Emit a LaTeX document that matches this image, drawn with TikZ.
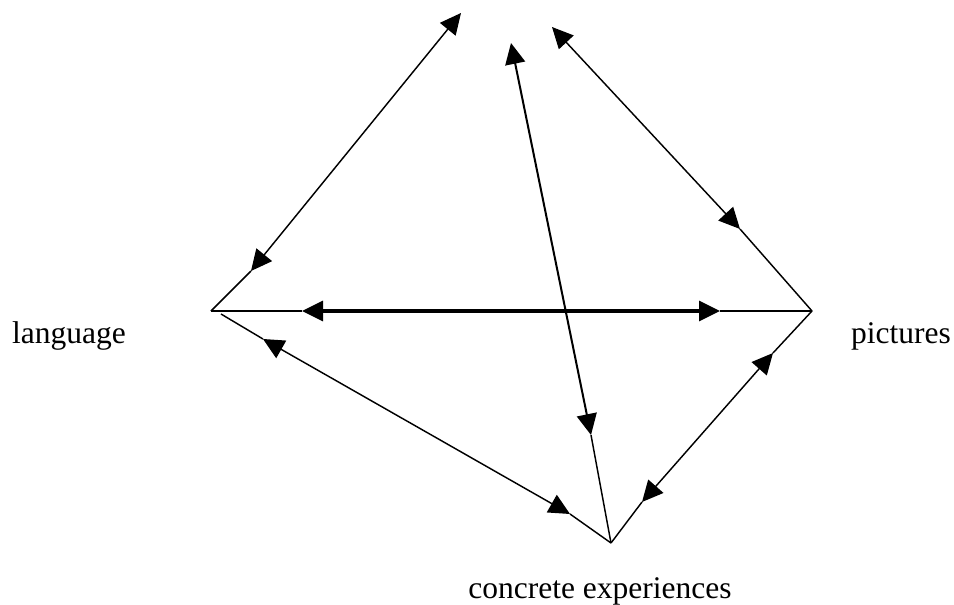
\documentclass[tikz,border=0pt]{standalone}
\usepackage{fontspec}
\setmainfont{Liberation Serif}
\usetikzlibrary{arrows.meta}
\begin{document}
\begin{tikzpicture}[x=1pt,y=-1pt,
  thinln/.style={line width=1.45pt},
  midln/.style={line width=2pt},
  boldln/.style={line width=3.3pt},
  dbl/.style={{Triangle[length=21pt,width=20pt]}-{Triangle[length=21pt,width=20pt]}},
  lbl/.style={font=\fontsize{31.5}{36}\selectfont, inner sep=0pt}]
\useasboundingbox (0,0) rectangle (954,605);
% vertices
\coordinate (L) at (211,311);
\coordinate (Lb) at (221,314);
\coordinate (R) at (812,311);
\coordinate (B) at (611,543);
% arrow end points
\coordinate (a1s) at (251,271); \coordinate (a1e) at (461,13);
\coordinate (a2s) at (302,311); \coordinate (a2e) at (720,311);
\coordinate (a3s) at (740,229); \coordinate (a3e) at (552,27);
\coordinate (a4s) at (591,435); \coordinate (a4e) at (511,43);
\coordinate (a5s) at (263,339); \coordinate (a5e) at (570,514);
\coordinate (a6s) at (773,353); \coordinate (a6e) at (642,502);
% plain connecting segments
\draw[thinln] (L) -- (a1s);
\draw[thinln] (L) -- (a2s);
\draw[thinln] (Lb) -- (a5s);
\draw[thinln] (R) -- (a2e);
\draw[thinln] (R) -- (a3s);
\draw[thinln] (R) -- (a6s);
\draw[thinln] (B) -- (a4s);
\draw[thinln] (B) -- (a5e);
\draw[thinln] (B) -- (a6e);
% double-headed arrows
\draw[thinln,dbl] (a1s) -- (a1e);
\draw[boldln,dbl] (a2s) -- (a2e);
\draw[thinln,dbl] (a3s) -- (a3e);
\draw[midln,dbl] (a4s) -- (a4e);
\draw[thinln,dbl] (a5s) -- (a5e);
\draw[thinln,dbl] (a6s) -- (a6e);
% labels
\node[lbl,anchor=base west] (lang) at (12,343) {language};
\node[lbl,anchor=base west] (pict) at (851,343) {pictures};
\node[lbl,anchor=base] (conc) at (600,598) {concrete experiences};
\end{tikzpicture}
\end{document}
